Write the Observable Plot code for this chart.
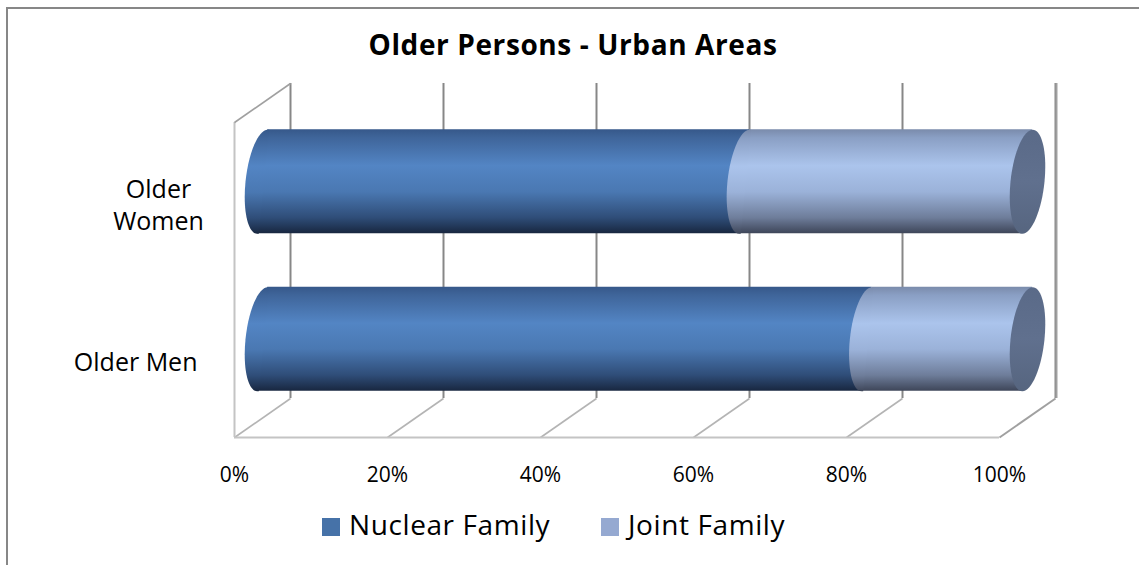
<!DOCTYPE html>
<html>
<head>
<meta charset="utf-8">
<script src="https://cdn.jsdelivr.net/npm/d3@7"></script>
<script src="https://cdn.jsdelivr.net/npm/@observablehq/plot@0.6"></script>
<style>
  html, body { margin: 0; padding: 0; background: #fff; }
  #wrap { position: relative; width: 1139px; height: 565px; overflow: hidden; font-family: "Open Sans", sans-serif; }
  #border { position: absolute; left: 6px; top: 7px; width: 1300px; height: 800px; border: 2px solid #878787; }
  #title { position: absolute; left: 0; width: 1146px; top: 25px; text-align: center; font-weight: bold; font-size: 28px; letter-spacing: 0.6px; color: #000; }
  #chart { position: absolute; left: 0; top: 60px; }
  #legend { position: absolute; top: 504px; left: 0; height: 40px; }
  .item { position: absolute; top: 0; white-space: nowrap; font-size: 28px; letter-spacing: 0.6px; color: #000; line-height: 40px; }
  .sw { position: absolute; top: 14px; width: 18px; height: 18px; }
</style>
</head>
<body>
<div id="wrap">
  <div id="border"></div>
  <div id="title"></div>
  <div id="chart"></div>
  <div id="legend"></div>
</div>
<script>
// ---- data ----
const title = "Older Persons - Urban Areas";
const categories = ["Older Men", "Older Women"];          // bottom to top
const categoryLabels = ["Older Men", "Older\nWomen"];
const series = ["Nuclear Family", "Joint Family"];
const nuclearShare = [0.79, 0.63];                        // per category
const jointShare = [0.21, 0.37];
const xTicks = [0, 0.2, 0.4, 0.6, 0.8, 1.0];
const seriesColors = ["#4672a8", "#95a9d1"];

// ---- 3D geometry (in scale units) ----
const dX = 0.0732;  // depth offset along x
const dY = 0.2476;  // depth offset along y
const halfH = 0.33; // cylinder half height
const SK = 0.1;     // cylinder skew (px of x per px of y)

const rows = [];
categories.forEach((c, i) => {
  rows.push({cat: c, i, series: series[0], start: 0, end: nuclearShare[i]});
  rows.push({cat: c, i, series: series[1], start: nuclearShare[i], end: nuclearShare[i] + jointShare[i]});
});
const yc = d => d.i + 0.5 + dY / 2;

const k = 0.5523;
const RX = 17, RY = 52;
const sk = (x, y) => [x - y * SK, y];
function skewedPath(ctx, pts) {
  for (const [cmd, ...c] of pts) {
    const p = [];
    for (let j = 0; j < c.length; j += 2) p.push(...sk(c[j], c[j + 1]));
    ctx[cmd](...p);
  }
}
const leftHalf = {
  draw(ctx) {
    skewedPath(ctx, [
      ["moveTo", 1.5, -RY],
      ["lineTo", 0, -RY],
      ["bezierCurveTo", -k * RX, -RY, -RX, -k * RY, -RX, 0],
      ["bezierCurveTo", -RX, k * RY, -k * RX, RY, 0, RY],
      ["lineTo", 1.5, RY]
    ]);
    ctx.closePath();
  }
};
const fullEllipse = {
  draw(ctx) {
    skewedPath(ctx, [
      ["moveTo", 0, -RY],
      ["bezierCurveTo", k * RX, -RY, RX, -k * RY, RX, 0],
      ["bezierCurveTo", RX, k * RY, k * RX, RY, 0, RY],
      ["bezierCurveTo", -k * RX, RY, -RX, k * RY, -RX, 0],
      ["bezierCurveTo", -RX, -k * RY, -k * RX, -RY, 0, -RY]
    ]);
    ctx.closePath();
  }
};

const isNuc = d => d.series === series[0];
const isJoint = d => d.series === series[1];
const gridStroke = "#878787";
const floorStroke = "#b4b4b4";

const chart = Plot.plot({
  width: 1139,
  height: 440,
  marginLeft: 234,
  marginRight: 140,
  marginTop: 62,
  marginBottom: 63,
  style: {fontFamily: "Open Sans, sans-serif", fontSize: "21px", color: "#000", background: "transparent", overflow: "visible"},
  x: {domain: [0, 1], ticks: xTicks, tickFormat: d3.format(".0%"), tickSize: 0, tickPadding: 30, label: null},
  y: {domain: [0, 2], axis: null},
  marks: [
    // back wall gridlines
    Plot.ruleX(xTicks, {x: d => d + dX, y1: dY, y2: 2 + dY, stroke: gridStroke, strokeWidth: 2}),
    // right wall
    Plot.link([1], {x1: d => d, y1: 0, x2: d => d + dX, y2: dY, stroke: "#a0a0a0", strokeWidth: 2}),
    Plot.ruleX([1], {x: d => d + dX + 0.0013, y1: dY, y2: 2 + dY, stroke: "#a0a0a0", strokeWidth: 2}),
    // floor diagonals
    Plot.link(xTicks.slice(0, -1), {x1: d => d, y1: 0, x2: d => d + dX, y2: dY, stroke: floorStroke, strokeWidth: 1.6}),
    // floor front edge
    Plot.ruleY([0], {x1: 0, x2: 1, stroke: "#c4c4c4", strokeWidth: 2}),
    // left wall
    Plot.ruleX([0], {y1: 0, y2: 2, stroke: "#c4c4c4", strokeWidth: 2}),
    Plot.link([0], {x1: d => d, y1: 2, x2: d => d + dX, y2: 2 + dY, stroke: "#a0a0a0", strokeWidth: 1.6}),
    // cylinders: nuclear
    Plot.rectX(rows, {filter: isNuc, x1: d => d.start + dX / 2, x2: d => d.end + dX / 2, y1: d => yc(d) - halfH, y2: d => yc(d) + halfH, fill: "url(#gNuc)"}),
    Plot.dot(rows, {filter: isNuc, x: d => d.start + dX / 2, y: yc, symbol: leftHalf, fill: "url(#gNuc)"}),
    // cylinders: joint
    Plot.rectX(rows, {filter: isJoint, x1: d => d.start + dX / 2, x2: d => d.end + dX / 2, y1: d => yc(d) - halfH, y2: d => yc(d) + halfH, fill: "url(#gJoint)"}),
    Plot.dot(rows, {filter: isJoint, x: d => d.start + dX / 2, y: yc, symbol: leftHalf, fill: "url(#gJoint)"}),
    Plot.dot(rows, {filter: isJoint, x: d => d.end + dX / 2, y: yc, symbol: fullEllipse, fill: "url(#gFace)"}),
    // category labels
    Plot.text(categories.map((c, i) => ({i, label: categoryLabels[i]})).filter(d => !d.label.includes("\n")),
      {x: 0, y: d => d.i + 0.5, text: "label", textAnchor: "end", dx: -37, dy: 2, fontSize: 25, lineHeight: 1.28}),
    Plot.text(categories.map((c, i) => ({i, label: categoryLabels[i]})).filter(d => d.label.includes("\n")),
      {x: 0, y: d => d.i + 0.5, text: "label", textAnchor: "middle", dx: -76, dy: 2, fontSize: 25, lineHeight: 1.28})
  ]
});

// skew cylinder bodies to match the tilted perspective of the caps
chart.querySelectorAll('g[aria-label="rect"] rect').forEach(r => {
  const y = +r.getAttribute("y"), h = +r.getAttribute("height");
  const cy = y + h / 2;
  r.setAttribute("transform", `translate(${cy * SK},0) skewX(${-Math.atan(SK) * 180 / Math.PI})`);
});

// gradients
const ns = "http://www.w3.org/2000/svg";
const defs = document.createElementNS(ns, "defs");
function grad(id, stops) {
  const g = document.createElementNS(ns, "linearGradient");
  g.setAttribute("id", id);
  g.setAttribute("x1", "0"); g.setAttribute("y1", "0");
  g.setAttribute("x2", "0"); g.setAttribute("y2", "1");
  stops.forEach(([o, c]) => {
    const s = document.createElementNS(ns, "stop");
    s.setAttribute("offset", o);
    s.setAttribute("stop-color", c);
    g.appendChild(s);
  });
  defs.appendChild(g);
}
grad("gNuc", [[0, "#36588a"], [0.08, "#3f659a"], [0.35, "#5385c4"], [0.6, "#4a78b2"], [0.85, "#2f4d78"], [1, "#182740"]]);
grad("gJoint", [[0, "#7a8bab"], [0.08, "#8a9fc4"], [0.35, "#abc4ec"], [0.6, "#9bb2d9"], [0.85, "#6e7d9a"], [1, "#3e4659"]]);
grad("gFace", [[0, "#5a6a88"], [0.5, "#60708e"], [1, "#56657f"]]);
chart.insertBefore(defs, chart.firstChild);

document.getElementById("chart").appendChild(chart);
document.getElementById("title").textContent = title;

const legend = document.getElementById("legend");
const legendX = [322, 601];
series.forEach((s, i) => {
  const item = document.createElement("div");
  item.className = "item";
  item.style.left = legendX[i] + "px";
  const sw = document.createElement("div");
  sw.className = "sw";
  sw.style.left = "0px";
  sw.style.background = seriesColors[i];
  const t = document.createElement("span");
  t.style.marginLeft = "27px";
  t.textContent = s;
  item.appendChild(sw);
  item.appendChild(t);
  legend.appendChild(item);
});
</script>
</body>
</html>
